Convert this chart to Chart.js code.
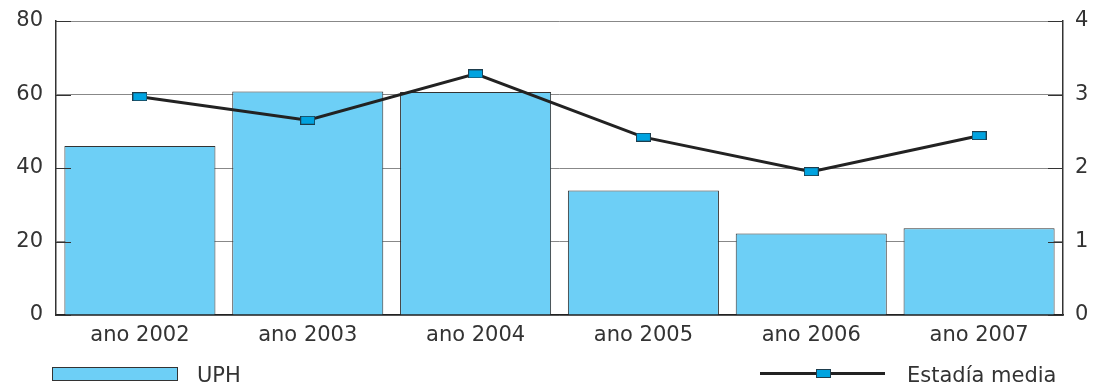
<!DOCTYPE html>
<html><head><meta charset="utf-8">
<script src="https://cdn.jsdelivr.net/npm/chart.js@4"></script>
<style>
html,body{margin:0;padding:0;background:#fff;}
#wrap{position:relative;width:1103px;height:389px;font-family:"DejaVu Sans",sans-serif;color:#333;}
canvas{position:absolute;left:0;top:0;}
.lg{position:absolute;font-size:21px;line-height:24px;color:#333;}
</style></head>
<body><div id="wrap"><canvas id="c" width="1103" height="389"></canvas>
<div class="lg" style="left:52px;top:367px;width:124px;height:12px;background:#6dcff6;border:1px solid #333;"></div>
<div class="lg" style="left:197px;top:363px;">UPH</div>
<div class="lg" style="left:760px;top:372px;width:125px;height:3px;background:#222;"></div>
<div class="lg" style="left:816px;top:369px;width:13px;height:7px;background:#00a3e0;border:1px solid #1d3d4d;"></div>
<div class="lg" style="left:907px;top:363px;">Estadía media</div>
</div>
<script>
const categories = ['ano 2002','ano 2003','ano 2004','ano 2005','ano 2006','ano 2007'];
const uphValues = [46.0, 60.8, 60.7, 33.9, 22.2, 23.6];
const estadiaValues = [2.97, 2.65, 3.28, 2.42, 1.95, 2.44];
const leftTicks = [0, 20, 40, 60, 80];
const rightTicks = [0, 1, 2, 3, 4];

const marker = document.createElement('canvas');
marker.width = 15; marker.height = 9;
(function(){const m=marker.getContext('2d');m.fillStyle='#00a3e0';m.fillRect(0,0,15,9);m.strokeStyle='#1d3d4d';m.lineWidth=1;m.strokeRect(0.5,0.5,14,8);})();

const innerTicks = {
  id:'innerTicks',
  afterDatasetsDraw(chart){
    const ctx=chart.ctx, a=chart.chartArea;
    ctx.save(); ctx.strokeStyle='#333'; ctx.lineWidth=1;
    leftTicks.forEach(v=>{const y=Math.round(chart.scales.y.getPixelForValue(v))+0.5;ctx.beginPath();ctx.moveTo(a.left,y);ctx.lineTo(a.left+15,y);ctx.stroke();});
    rightTicks.forEach(v=>{const y=Math.round(chart.scales.y1.getPixelForValue(v))+0.5;ctx.beginPath();ctx.moveTo(a.right-15,y);ctx.lineTo(a.right,y);ctx.stroke();});
    ctx.restore();
  }
};

function fixV(w){return function(s){s.width=w;s.paddingTop=0;s.paddingBottom=0;};}
const font = {family:'"DejaVu Sans", sans-serif', size:21};
new Chart(document.getElementById('c'), {
  data:{
    labels:categories,
    datasets:[
      {type:'line',label:'Estadía media',data:estadiaValues,yAxisID:'y1',borderColor:'#222',borderWidth:3,pointStyle:marker,pointRadius:7,order:0,tension:0},
      {type:'bar',label:'UPH',data:uphValues,yAxisID:'y',backgroundColor:'#6dcff6',borderColor:'#333',borderWidth:1,barPercentage:0.9,categoryPercentage:1.0,order:1}
    ]
  },
  options:{
    responsive:false, devicePixelRatio:1, animation:false,
    layout:{padding:{top:21,left:0,right:0,bottom:0}},
    plugins:{legend:{display:false},tooltip:{enabled:false}},
    scales:{
      x:{grid:{display:false,drawTicks:false},border:{display:true,color:'#222',width:1.5},
         ticks:{font:font,color:'#333',padding:8,maxRotation:0},
         afterFit(s){s.height=74;s.paddingLeft=0;s.paddingRight=0;}},
      y:{position:'left',min:0,max:80,afterBuildTicks(s){s.ticks=leftTicks.map(v=>({value:v}));},
         grid:{color:'#888',lineWidth:1,drawTicks:false},border:{display:true,color:'#333',width:1.5},
         ticks:{font:font,color:'#333',padding:13},
         afterFit:fixV(56)},
      y1:{position:'right',min:0,max:4,afterBuildTicks(s){s.ticks=rightTicks.map(v=>({value:v}));},
         grid:{display:false,drawTicks:false},border:{display:true,color:'#333',width:1.5},
         ticks:{font:font,color:'#333',padding:12},
         afterFit:fixV(40)}
    }
  },
  plugins:[innerTicks]
});
</script></body></html>
